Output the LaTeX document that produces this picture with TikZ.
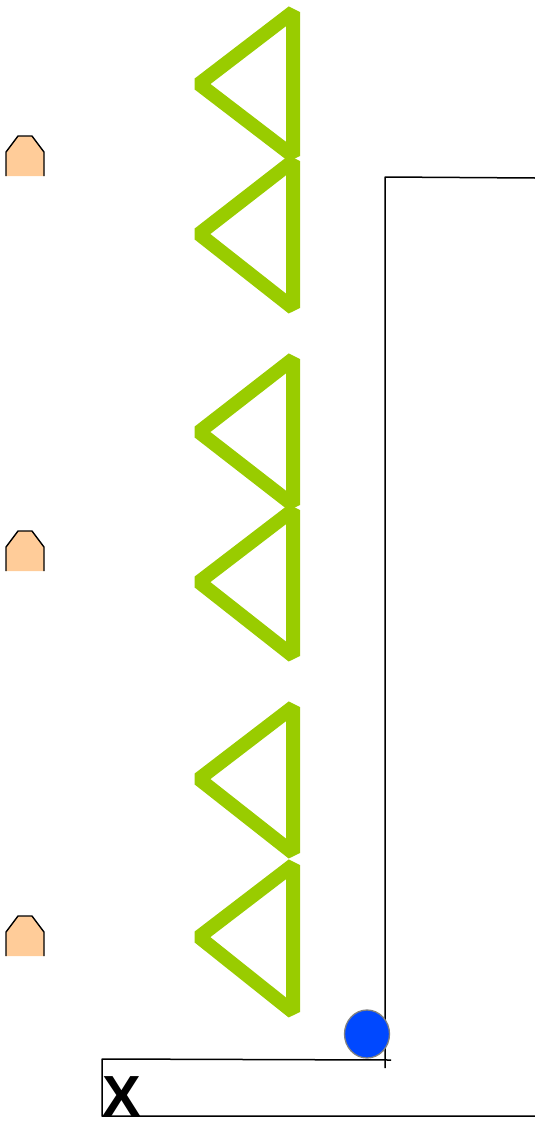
\documentclass[tikz,border=0pt]{standalone}
\usepackage{fontspec}
\setmainfont{Liberation Sans}
\definecolor{leafgreen}{HTML}{99CC00}
\definecolor{peach}{HTML}{FFCC99}
\definecolor{puckblue}{HTML}{0048FF}

\begin{document}
\begin{tikzpicture}[x=1pt, y=-1pt, line join=bevel]
  \useasboundingbox (0,0) rectangle (535,1127);

  % triangles: top, apex, bottom
  \foreach \t/\m/\b in {12/84/156, 161/234/308, 359/432/505, 510/582/656, 707/779/853, 865/937/1012}
    \draw[leafgreen, line width=14pt] (293,\t) -- (293,\b) -- (199,\m) -- cycle;

  % little houses
  \foreach \y in {136, 531, 916}
  {
    \fill[peach] (6,\y+40) -- (6,\y+16) -- (18,\y) -- (32,\y) -- (44,\y+16) -- (44,\y+40) -- cycle;
    \draw[line width=1.4pt] (6,\y+40) -- (6,\y+16) -- (18,\y) -- (32,\y) -- (44,\y+16) -- (44,\y+40);
  }

  % walls
  \draw[line width=1.5pt] (535,178) -- (385,177) -- (385,1068);
  \draw[line width=1.5pt] (391,1060) -- (102,1059) -- (102,1116) -- (535,1116);

  % ball
  \draw[gray, line width=1.3pt, fill=puckblue] (367,1034) ellipse[x radius=22.5, y radius=24];

  \node[anchor=south west, inner sep=0pt, font=\bfseries\fontsize{58}{58}\selectfont] (mark) at (102.5,1116.5) {X};
\end{tikzpicture}
\end{document}
